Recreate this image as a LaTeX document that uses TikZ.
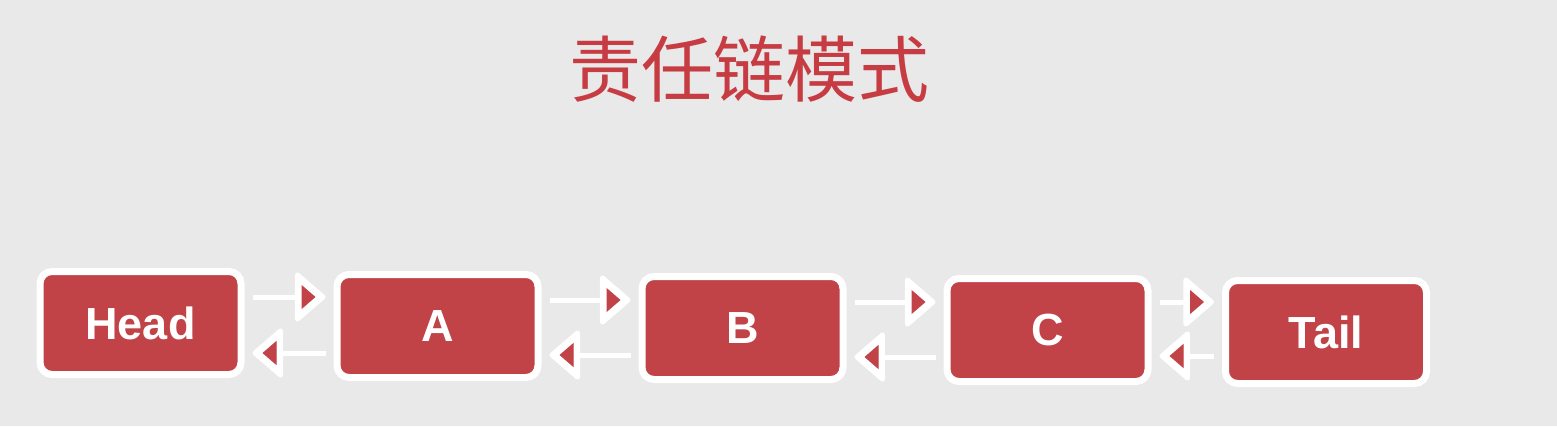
\documentclass[tikz,border=0pt]{standalone}
\usepackage{fontspec}
\setmainfont{Liberation Sans}
\newfontfamily\cjk{Noto Sans CJK SC}
\usepackage{tikz}
\usetikzlibrary{arrows.meta, shadows}

\definecolor{bggray}{RGB}{233,233,233}
\definecolor{boxred}{RGB}{193,67,71}
\definecolor{titlered}{RGB}{198,60,66}

\tikzset{
  box/.style={rectangle, rounded corners=12pt, fill=boxred, draw=white,
    line width=7pt, minimum width=201pt, minimum height=103pt, text=white,
    font=\fontsize{45}{50}\selectfont\bfseries,
    drop shadow={opacity=0.25, shadow xshift=0pt, shadow yshift=-3pt}},
  link/.style={white, line width=5pt, shorten <=8pt, shorten >=8pt,
    -{Triangle[round, length=32pt, width=54pt]},
    postaction={draw=white, line width=1pt, shorten <=8pt, shorten >=18pt,
      -{Triangle[length=14pt, width=24pt, color=boxred]}}},
}

\begin{document}
\begin{tikzpicture}[x=1pt, y=-1pt]
        \fill[bggray] (0,0) rectangle (1557,426);
        \useasboundingbox (0,0) rectangle (1557,426);

        \node[inner sep=0pt, text=titlered, font=\fontsize{72}{80}\selectfont\cjk]
              (title) at (749,69) {责任链模式};

        \node[box] (head) at (140.5,323) {Head};
        \node[box] (a)    at (437.5,326) {A};
        \node[box] (b)    at (742.5,328) {B};
        \node[box] (c)    at (1047.5,330) {C};
        \node[box] (tail) at (1326,332) {Tail};

        % forward links
        \draw[link] ([yshift=26pt]head.east) -- ([yshift=26pt]head.east -| a.west);
        \draw[link] ([yshift=26pt]a.east) -- ([yshift=26pt]a.east -| b.west);
        \draw[link] ([yshift=26pt]b.east) -- ([yshift=26pt]b.east -| c.west);
        \draw[link] ([yshift=28pt]c.east) -- ([yshift=28pt]c.east -| tail.west);

        % backward links
        \draw[link] ([yshift=-27pt]a.west) -- ([yshift=-27pt]a.west -| head.east);
        \draw[link] ([yshift=-27pt]b.west) -- ([yshift=-27pt]b.west -| a.east);
        \draw[link] ([yshift=-27pt]c.west) -- ([yshift=-27pt]c.west -| b.east);
        \draw[link] ([yshift=-24pt]tail.west) -- ([yshift=-24pt]tail.west -| c.east);
\end{tikzpicture}
\end{document}
